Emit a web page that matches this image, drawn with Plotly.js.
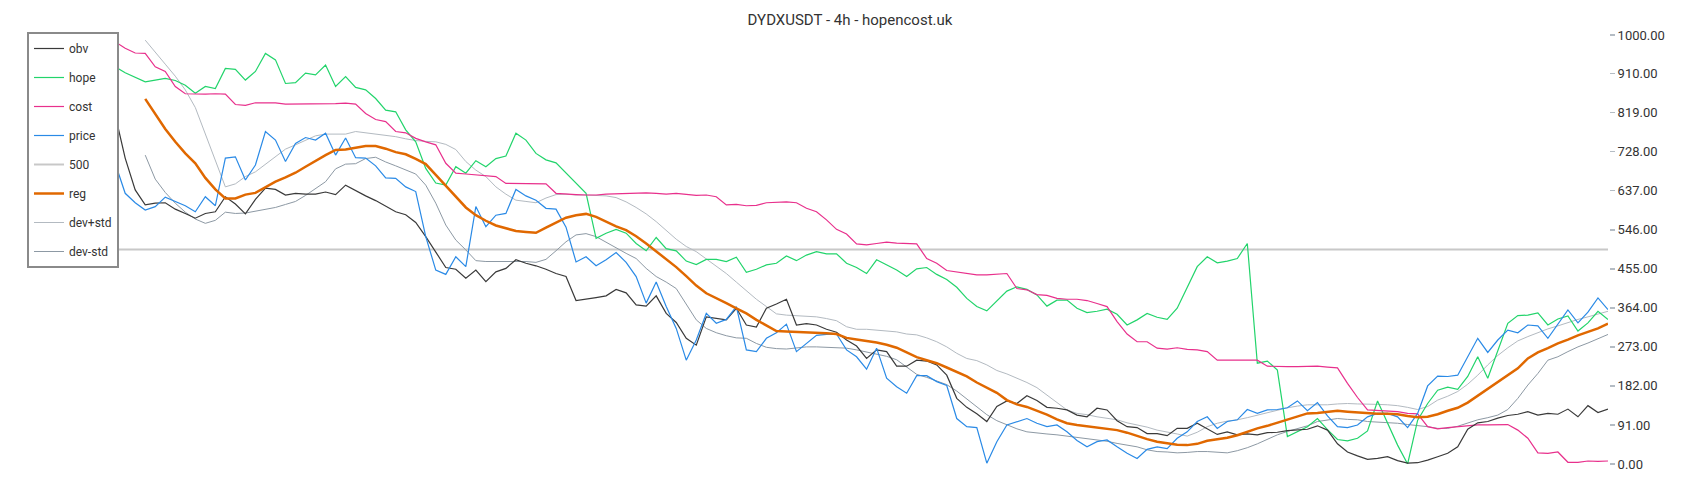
<!DOCTYPE html>
<html>
<head>
<meta charset="utf-8">
<script src="https://cdn.plot.ly/plotly-3.0.1.min.js"></script>
<style>html,body{margin:0;padding:0;background:#fff;}#chart{width:1700px;height:500px;}</style>
</head>
<body>
<div id="chart"></div>
<script>
const obv = [
872,814,713,639,604,608,609,594,584,573,584,588,623,606,583,617,643,640,627,631,629,629,634,628,650,
637,625,614,600,588,581,563,530,495,458,454,433,452,425,448,456,476,468,462,454,444,437,381,384,
388,392,407,399,371,368,392,351,330,293,277,343,340,336,363,324,319,363,373,384,324,327,324,314,307,
289,275,246,266,262,228,228,242,240,231,207,153,132,117,99,134,147,141,159,148,132,130,126,114,
110,130,126,101,87,85,71,71,66,83,83,95,81,69,75,68,70,68,73,74,78,79,81,89,79,
47,28,19,11,13,17,8,2,3,9,17,25,40,81,96,99,107,113,116,122,114,118,
116,128,110,136,120,128];

const hope = [
965,926,912,901,891,895,899,894,883,864,880,875,922,920,895,915,957,942,887,889,911,907,930,880,903,
878,872,852,825,821,779,751,689,655,650,693,678,707,693,712,718,771,755,724,709,702,678,654,631,
526,538,547,538,514,497,528,502,497,473,465,477,477,472,482,447,454,464,468,485,474,487,495,490,490,
468,458,444,476,464,452,437,455,458,442,430,412,386,367,357,381,403,413,407,394,368,382,382,363,
353,356,361,349,324,336,351,342,337,363,413,460,483,469,473,479,514,235,240,219,64,75,87,106,80,
57,54,60,77,147,95,44,0,102,141,172,179,174,204,250,200,266,328,346,347,352,324,
338,345,310,329,356,337];

const cost = [
984,984,969,958,957,926,915,880,863,862,862,863,862,838,836,842,842,842,839,839,839,839,839,840,841,
839,817,803,798,775,772,759,751,744,701,678,676,674,673,670,654,654,653,654,653,631,629,628,627,
627,629,630,631,632,632,631,629,631,628,626,627,623,604,605,602,603,609,610,611,609,596,588,569,547,
536,513,511,514,517,515,514,513,479,468,451,448,444,441,441,442,444,409,406,395,393,386,384,384,
381,374,367,332,303,285,285,270,268,271,267,266,262,242,242,242,242,242,228,227,227,227,227,228,226,
224,188,155,126,125,124,122,118,117,87,82,85,87,90,91,91,92,92,79,60,26,25,
28,4,4,7,6,7];

const price = [
872,701,631,609,592,600,622,612,602,588,623,602,713,716,662,697,775,755,705,747,761,755,771,720,760,
714,713,695,667,666,646,635,530,452,442,483,460,600,553,580,584,640,625,615,596,594,552,471,483,
462,476,493,470,437,375,424,367,316,242,289,351,328,337,367,266,262,293,306,326,262,281,300,302,303,
266,250,221,270,200,180,165,206,206,192,183,106,87,85,2,52,91,99,106,95,87,91,75,55,
40,52,56,40,25,13,34,40,36,60,75,99,110,83,99,103,127,118,126,127,131,147,124,143,112,
87,85,91,110,118,118,110,85,118,182,205,204,207,250,293,260,289,312,306,324,322,293,
325,359,329,354,387,360];

const reg = [
null,null,null,null,851,815,781,751,724,701,667,640,619,619,628,632,645,658,668,679,693,707,720,732,733,
737,741,741,735,727,722,711,699,674,649,623,598,580,567,556,549,543,541,539,551,563,574,580,583,
576,565,554,545,531,514,496,479,459,438,416,398,387,375,363,351,336,323,310,309,308,308,306,305,303,
294,290,287,283,278,271,260,249,242,235,225,214,204,190,178,166,149,139,133,124,115,104,95,91,
88,84,81,79,73,65,58,52,48,45,44,47,54,58,61,67,75,83,89,96,103,110,118,119,121,
124,122,120,119,117,117,116,112,109,110,116,124,131,143,159,174,189,205,223,246,260,270,
281,290,300,308,316,327];

const devPlus = [
null,null,null,null,988,961,932,904,872,831,769,705,646,653,670,681,699,718,734,744,755,765,769,769,769,
775,772,768,765,763,758,754,752,751,745,733,705,685,670,646,629,615,612,609,620,628,629,627,627,
626,625,621,611,598,583,565,545,524,507,495,478,462,444,424,403,384,367,350,347,346,345,343,339,334,
320,314,314,312,310,308,303,301,294,285,273,258,246,241,231,218,210,200,190,178,161,142,126,118,
115,110,106,103,96,91,86,79,75,70,65,74,87,95,100,103,108,114,119,126,131,135,138,138,138,
140,141,140,140,139,138,136,132,127,134,149,158,169,186,207,231,253,271,287,297,306,315,
322,330,337,343,350,356];

const devMinus = [
null,null,null,null,720,664,633,608,587,571,561,568,587,584,585,589,594,598,605,612,626,641,658,688,699,
700,712,715,704,695,685,676,650,608,557,522,499,474,472,472,472,472,472,470,477,497,518,534,537,
530,517,503,491,479,456,437,424,409,374,336,316,306,299,294,293,281,272,269,268,270,273,273,272,271,
270,266,261,256,251,243,227,209,202,194,185,170,151,133,115,101,91,82,75,72,70,68,65,62,
59,56,53,48,44,40,33,29,28,26,27,29,29,28,26,31,38,47,57,68,76,83,89,99,103,
106,104,103,99,98,96,95,92,90,87,83,83,88,95,103,108,114,127,153,184,211,242,
250,262,273,282,292,302];

const levelX = [0, 150];
const level500 = [500, 500];
const yTicks = [0, 91, 182, 273, 364, 455, 546, 637, 728, 819, 910, 1000];

const idx = obv.map((_, i) => i);

function line(name, y, color, width, z, x) {
  return {
    type: 'scatter', mode: 'lines', name: name, x: x || idx, y: y,
    line: {color: color, width: width}, legendgroup: name, zorder: z,
    connectgaps: false, hoverinfo: 'skip'
  };
}

const traces = [
  line('obv', obv, '#3a3a3a', 1.2, 3),
  line('hope', hope, '#22d46b', 1.2, 2),
  line('cost', cost, '#e8308c', 1.2, 2),
  line('price', price, '#2a8ae6', 1.2, 4),
  line('500', level500, '#c8c8c8', 2, 0, levelX),
  line('reg', reg, '#e06800', 2.5, 5),
  line('dev+std', devPlus, '#b3bac1', 1, 1),
  line('dev-std', devMinus, '#8d99a4', 1, 1)
];

const layout = {
  width: 1700, height: 500,
  margin: {l: 30, r: 92, t: 35, b: 36, pad: 0, autoexpand: false},
  paper_bgcolor: '#ffffff', plot_bgcolor: '#ffffff',
  font: {family: 'Roboto, "Open Sans", sans-serif', color: '#333333', size: 12},
  title: {
    text: 'DYDXUSDT - 4h - hopencost.uk',
    font: {size: 15, color: '#333333', family: 'Roboto, sans-serif'},
    x: 0.5, xref: 'container', xanchor: 'center',
    y: 0.96, yref: 'container', yanchor: 'middle'
  },
  xaxis: {range: [-7.5, 150], visible: false, fixedrange: true},
  yaxis: {
    side: 'right', range: [0, 1000], tickmode: 'array', tickvals: yTicks,
    tickformat: '.2f', showgrid: false, zeroline: false,
    showline: true, linecolor: '#b4bcc4', linewidth: 2,
    ticks: 'outside', ticklen: 5, tickwidth: 1.5, tickcolor: '#b4bcc4',
    tickfont: {size: 13, color: '#333333'}, fixedrange: true
  },
  showlegend: true,
  legend: {
    x: 27 / 1700, xref: 'container', xanchor: 'left',
    y: 1 - 32 / 500, yref: 'container', yanchor: 'top',
    bgcolor: '#ffffff', bordercolor: '#8a8a8a', borderwidth: 2,
    font: {size: 12, color: '#333333'},
    tracegroupgap: 10, itemwidth: 30, traceorder: 'grouped'
  }
};

Plotly.newPlot('chart', traces, layout, {displayModeBar: false, staticPlot: true});
</script>
</body>
</html>
